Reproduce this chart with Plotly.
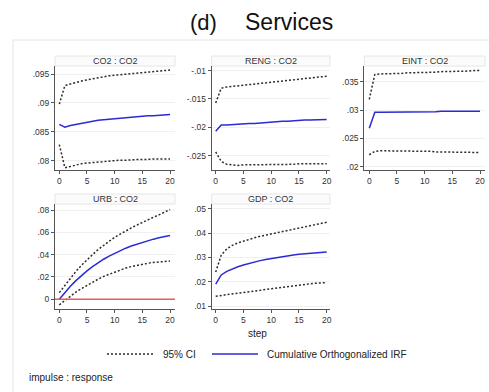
import plotly.graph_objects as go

W, H = 489, 392
steps = list(range(21))

# ---- data ----
co2_irf = [.0863, .0858, .0861, .0863, .0865, .0867, .0868, .0870, .0871, .0872, .0873,
           .0874, .0875, .0876, .0877, .0877, .0878, .0878, .0879, .0879, .0880]
co2_hi = [.0898, .0930, .0933, .0936, .0938, .0940, .0942, .0944, .0945, .0947, .0948,
          .0949, .0950, .0951, .0952, .0953, .0954, .0955, .0956, .0956, .0957]
co2_lo = [.0828, .0788, .0790, .0793, .0795, .0796, .0797, .0798, .0799, .0800, .0800,
          .0801, .0801, .0802, .0802, .0802, .0803, .0803, .0803, .0803, .0803]

reng_irf = [-.0207, -.0196, -.0196, -.0195, -.0195, -.0194, -.0193, -.0193, -.0192, -.0191, -.0191,
            -.0190, -.0189, -.0189, -.0188, -.0188, -.0187, -.0187, -.0187, -.0186, -.0186]
reng_hi = [-.0157, -.0131, -.0129, -.0128, -.0126, -.0125, -.0124, -.0123, -.0122, -.0121, -.0120,
           -.0119, -.0118, -.0117, -.0116, -.0115, -.0114, -.0113, -.0112, -.0111, -.0110]
reng_lo = [-.0243, -.0260, -.0265, -.0266, -.0267, -.0266, -.0266, -.0266, -.0266, -.0266, -.0265,
           -.0265, -.0265, -.0265, -.0265, -.0264, -.0264, -.0264, -.0264, -.0264, -.0264]

eint_irf = [.0268, .0296, .0296, .0296, .0297, .0297, .0297, .0297, .0297, .0297, .0297,
            .0297, .0297, .0298, .0298, .0298, .0298, .0298, .0298, .0298, .0298]
eint_hi = [.0319, .0363, .0364, .0364, .0365, .0365, .0365, .0366, .0366, .0366, .0367,
           .0367, .0367, .0368, .0368, .0369, .0369, .0369, .0369, .0370, .0370]
eint_lo = [.0221, .0227, .0228, .0228, .0228, .0228, .0228, .0227, .0227, .0227, .0227,
           .0227, .0226, .0226, .0226, .0226, .0226, .0225, .0225, .0225, .0225]

urb_irf = [.0000, .0061, .0117, .0167, .0213, .0255, .0293, .0328, .0359, .0387, .0413,
           .0437, .0458, .0478, .0495, .0511, .0526, .0539, .0551, .0562, .0572]
urb_hi = [.0060, .0125, .0190, .0250, .0305, .0355, .0400, .0445, .0485, .0520, .0555,
          .0585, .0615, .0640, .0665, .0690, .0712, .0735, .0757, .0780, .0805]
urb_lo = [-.0050, -.0010, .0030, .0065, .0095, .0125, .0155, .0180, .0205, .0225, .0245,
          .0263, .0280, .0293, .0305, .0315, .0323, .0330, .0336, .0340, .0343]

gdp_irf = [.0190, .0228, .0243, .0253, .0262, .0269, .0276, .0282, .0287, .0292, .0296,
           .0300, .0304, .0307, .0310, .0313, .0315, .0317, .0319, .0321, .0323]
gdp_hi = [.0240, .0310, .0335, .0350, .0360, .0368, .0375, .0381, .0387, .0392, .0397,
          .0402, .0407, .0412, .0417, .0421, .0426, .0430, .0435, .0440, .0445]
gdp_lo = [.0140, .0145, .0147, .0150, .0153, .0157, .0161, .0164, .0168, .0171, .0174,
          .0177, .0180, .0183, .0185, .0187, .0190, .0192, .0194, .0196, .0197]

x_ticks = [0, 5, 10, 15, 20]
x_ticklabels = ["0", "5", "10", "15", "20"]

panels = [
    dict(title="CO2 : CO2", irf=co2_irf, hi=co2_hi, lo=co2_lo,
         yt=[.08, .085, .09, .095], yl=[".08", ".085", ".09", ".095"], yr=[.0784, .0964]),
    dict(title="RENG : CO2", irf=reng_irf, hi=reng_hi, lo=reng_lo,
         yt=[-.025, -.02, -.015, -.01], yl=["-.025", "-.02", "-.015", "-.01"], yr=[-.0275, -.0092]),
    dict(title="EINT : CO2", irf=eint_irf, hi=eint_hi, lo=eint_lo,
         yt=[.02, .025, .03, .035], yl=[".02", ".025", ".03", ".035"], yr=[.0194, .0378]),
    dict(title="URB : CO2", irf=urb_irf, hi=urb_hi, lo=urb_lo,
         yt=[0, .02, .04, .06, .08], yl=["0", ".02", ".04", ".06", ".08"], yr=[-.0087, .0854]),
    dict(title="GDP : CO2", irf=gdp_irf, hi=gdp_hi, lo=gdp_lo,
         yt=[.01, .02, .03, .04, .05], yl=[".01", ".02", ".03", ".04", ".05"], yr=[.0088, .052]),
]

# ---- layout geometry (pixels) ----
cols = [(55, 175), (211.7, 330), (364.3, 485)]
rows = [(66, 170), (204, 309)]
xranges = [[-0.78, 20.9], [-0.72, 20.6], [-0.9, 20.9]]

def px(x):
    return x / W

def py(y):
    return 1 - y / H

FONT = "Liberation Sans, Arial, sans-serif"
CI_COLOR = "#2b2b2b"
IRF_COLOR = "#2a2ad6"
AX_COLOR = "#555555"

fig = go.Figure()
shapes = []
annotations = []
layout = {}

for i, p in enumerate(panels):
    r, c = divmod(i, 3)
    n = "" if i == 0 else str(i + 1)
    xa, ya = "x" + n, "y" + n
    x0, x1 = cols[c]
    y0, y1 = rows[r]
    common = dict(showline=True, linecolor=AX_COLOR, linewidth=1, ticks="outside",
                  ticklen=3, tickcolor=AX_COLOR, zeroline=False, automargin=False,
                  tickfont=dict(family=FONT, size=8.5, color="#333333"))
    layout["xaxis" + n] = dict(domain=[px(x0), px(x1)], anchor=ya, range=xranges[c],
                               tickvals=x_ticks, ticktext=x_ticklabels, showgrid=False,
                               **common)
    layout["yaxis" + n] = dict(domain=[py(y1), py(y0)], anchor=xa, range=p["yr"],
                               tickvals=p["yt"], ticktext=p["yl"], showgrid=True,
                               gridcolor="#f0f0f0", gridwidth=1, **common)
    for arr, is_ci in ((p["hi"], True), (p["lo"], True), (p["irf"], False)):
        fig.add_trace(go.Scatter(
            x=steps, y=arr, xaxis=xa, yaxis=ya, mode="lines", showlegend=False,
            line=dict(color=CI_COLOR if is_ci else IRF_COLOR,
                      width=1.5, dash="2px,2px" if is_ci else "solid")))
    # title strip
    shapes.append(dict(type="rect", xref="paper", yref="paper",
                       x0=px(x0), x1=px(x1), y0=py(y0), y1=py(y0 - 10),
                       line=dict(color="#e6e6e6", width=1), fillcolor="#fbfbfb", layer="below"))
    annotations.append(dict(text=p["title"], xref="paper", yref="paper",
                            x=px((x0 + x1) / 2), y=py(y0 - 5), showarrow=False,
                            xanchor="center", yanchor="middle",
                            font=dict(family=FONT, size=9, color="#333333")))
    if i == 3:
        shapes.append(dict(type="line", xref=xa + " domain", yref=ya,
                           x0=0, x1=1, y0=0, y1=0,
                           line=dict(color="#f05a5a", width=1.5)))

# outer frame
shapes.append(dict(type="rect", xref="paper", yref="paper",
                   x0=px(13), x1=px(495), y0=py(400), y1=py(40),
                   line=dict(color="#e4e4e4", width=1), fillcolor="rgba(0,0,0,0)", layer="below"))

# legend (manual)
shapes.append(dict(type="line", xref="paper", yref="paper", x0=px(107), x1=px(153),
                   y0=py(354), y1=py(354), line=dict(color=CI_COLOR, width=1.5, dash="2px,2px")))
shapes.append(dict(type="line", xref="paper", yref="paper", x0=px(212), x1=px(258),
                   y0=py(354), y1=py(354), line=dict(color=IRF_COLOR, width=1.5)))
annotations.append(dict(text="95% CI", xref="paper", yref="paper", x=px(161), y=py(354),
                        xanchor="left", yanchor="middle", showarrow=False,
                        font=dict(family=FONT, size=10, color="#222222")))
annotations.append(dict(text="Cumulative Orthogonalized IRF", xref="paper", yref="paper",
                        x=px(265), y=py(354), xanchor="left", yanchor="middle", showarrow=False,
                        font=dict(family=FONT, size=10, color="#222222")))
annotations.append(dict(text="impulse : response", xref="paper", yref="paper",
                        x=px(27), y=py(377), xanchor="left", yanchor="middle", showarrow=False,
                        font=dict(family=FONT, size=10, color="#222222")))
annotations.append(dict(text="step", xref="paper", yref="paper",
                        x=px(257), y=py(333), xanchor="center", yanchor="middle", showarrow=False,
                        font=dict(family=FONT, size=10, color="#222222")))
# main title
annotations.append(dict(text="(d)", xref="paper", yref="paper", x=px(219), y=py(22),
                        xanchor="right", yanchor="middle", showarrow=False,
                        font=dict(family=FONT, size=22, color="#111111")))
annotations.append(dict(text="Services", xref="paper", yref="paper", x=px(243), y=py(22),
                        xanchor="left", yanchor="middle", showarrow=False,
                        font=dict(family=FONT, size=23, color="#111111")))

fig.update_layout(width=W, height=H, margin=dict(l=0, r=0, t=0, b=0, autoexpand=False),
                  paper_bgcolor="white", plot_bgcolor="white",
                  shapes=shapes, annotations=annotations, **layout)

fig.write_html("out.html", config={"displayModeBar": False},
               post_script="document.body.style.margin='0';document.body.style.padding='0';")
